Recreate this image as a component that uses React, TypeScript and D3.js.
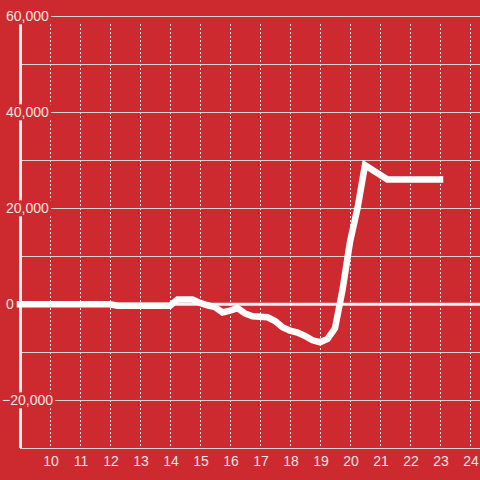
import React, { useEffect, useRef } from "react";
import * as d3 from "d3";

const days: number[] = [9, 12, 12.25, 14, 14.25, 14.75, 15, 15.25, 15.5, 15.75, 16, 16.25, 16.5, 16.75, 17, 17.25, 17.5, 17.75, 18, 18.25, 18.5, 18.75, 19, 19.25, 19.5, 19.75, 20, 20.25, 20.5, 20.75, 21, 21.25, 22, 23];
const values: number[] = [0, 0, -300, -300, 1000, 1000, 300, -200, -600, -1700, -1300, -800, -1900, -2500, -2600, -2700, -3500, -4800, -5500, -5900, -6600, -7500, -7900, -7200, -5000, 3000, 13000, 20000, 29000, 28000, 27000, 26000, 26000, 26000];
const xTicks: number[] = [10, 11, 12, 13, 14, 15, 16, 17, 18, 19, 20, 21, 22, 23, 24];
const yGrid: number[] = [60000, 50000, 40000, 30000, 20000, 10000, 0, -10000, -20000, -30000];
const yLabels: number[] = [60000, 40000, 20000, 0, -20000];

const BG = "#cd2a2f";

export default function App() {
  const ref = useRef<SVGSVGElement>(null);
  useEffect(() => {
    const svg = d3.select(ref.current);
    svg.selectAll("*").remove();
    const x = d3.scaleLinear().domain([9, 24.3333]).range([20, 480]);
    const y = d3.scaleLinear().domain([-30000, 60000]).range([448.3, 16.3]);

    svg.append("rect").attr("width", 480).attr("height", 480).attr("fill", BG);

    // vertical dotted gridlines
    svg.append("g").selectAll("line").data(xTicks).join("line")
      .attr("x1", d => x(d) + 0.5).attr("x2", d => x(d) + 0.5)
      .attr("y1", 24).attr("y2", 448)
      .attr("stroke", "#e6e6e6").attr("stroke-width", 1)
      .attr("stroke-dasharray", "2,2");

    // horizontal gridlines
    svg.append("g").selectAll("line").data(yGrid.filter(v => v !== 0)).join("line")
      .attr("x1", 20).attr("x2", 480)
      .attr("y1", d => Math.round(y(d)) + 0.5).attr("y2", d => Math.round(y(d)) + 0.5)
      .attr("stroke", "#d4d4d4").attr("stroke-width", 1);

    // y axis line
    svg.append("line").attr("x1", 20.5).attr("x2", 20.5).attr("y1", 17).attr("y2", 448)
      .attr("stroke", "#f0f0f0").attr("stroke-width", 3);

    // zero line
    svg.append("line").attr("x1", 17).attr("x2", 480).attr("y1", y(0)).attr("y2", y(0))
      .attr("stroke", "#f2f2f2").attr("stroke-width", 3);

    // y labels with background
    const lg = svg.append("g");
    yLabels.forEach(v => {
      const g = lg.append("g");
      const r = g.append("rect").attr("fill", BG);
      const t = g.append("text")
        .attr("x", v < 0 ? 2 : 6)
        .attr("y", y(v))
        .attr("dy", "0.36em")
        .attr("font-family", "'Liberation Sans', Arial, sans-serif")
        .attr("font-size", 14)
        .attr("fill", "#f6e4e4")
        .text(d3.format(",")(v));
      const b = (t.node() as SVGTextElement).getBBox();
      r.attr("x", b.x - 2).attr("width", b.width + 4)
        .attr("y", y(v) - 8).attr("height", 16);
    });

    // x labels
    svg.append("g").selectAll("text").data(xTicks).join("text")
      .attr("x", d => x(d) + 1).attr("y", 466)
      .attr("text-anchor", "middle")
      .attr("font-family", "'Liberation Sans', Arial, sans-serif")
      .attr("font-size", 14)
      .attr("fill", "#f6e4e4")
      .text(d => String(d));

    // data line
    const pts: [number, number][] = days.map((d, i) => [d, values[i]]);
    const line = d3.line<[number, number]>().x(d => x(d[0])).y(d => y(d[1]));
    svg.append("path").attr("d", line(pts)!)
      .attr("fill", "none").attr("stroke", "#ffffff").attr("stroke-width", 6.5)
      .attr("stroke-linejoin", "miter").attr("stroke-linecap", "square");
  }, []);
  return (
    <svg ref={ref} width={480} height={480} style={{ position: "absolute", left: 0, top: 0 }} />
  );
}
